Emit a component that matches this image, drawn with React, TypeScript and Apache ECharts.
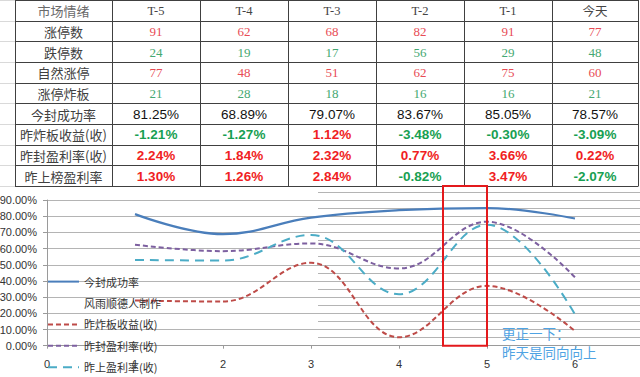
import React, { useEffect, useRef } from "react";
import * as echarts from "echarts";

// ---------- table data ----------
const headerLabel = "市场情绪";
const columns = ["T-5", "T-4", "T-3", "T-2", "T-1", "今天"];
const rowLabels = [
  "涨停数",
  "跌停数",
  "自然涨停",
  "涨停炸板",
  "今封成功率",
  "昨炸板收益(收)",
  "昨封盈利率(收)",
  "昨上榜盈利率",
];
const limitUpCount = [91, 62, 68, 82, 91, 77];
const limitDownCount = [24, 19, 17, 56, 29, 48];
const naturalLimitUp = [77, 48, 51, 62, 75, 60];
const brokenBoardCount = [21, 28, 18, 16, 16, 21];
const sealSuccessRate = [81.25, 68.89, 79.07, 83.67, 85.05, 78.57];
const brokenBoardReturn = [-1.21, -1.27, 1.12, -3.48, -0.3, -3.09];
const sealProfitRate = [2.24, 1.84, 2.32, 0.77, 3.66, 0.22];
const listProfitRate = [1.3, 1.26, 2.84, -0.82, 3.47, -2.07];

// ---------- chart data (values as plotted, %) ----------
const xPositions = [1, 2, 3, 4, 5, 6];
const chartSealRate = [81.25, 68.89, 79.07, 83.67, 85.05, 78.57];
const chartBrokenReturn = [27.9, 27.3, 51.2, 5.2, 37.0, 9.1];
const chartSealProfit = [62.4, 58.4, 63.2, 47.7, 76.6, 42.2];
const chartListProfit = [53.0, 52.6, 68.4, 31.8, 74.7, 19.3];
const legendNames = [
  "今封成功率",
  "风雨顺德人制作",
  "昨炸板收益(收)",
  "昨封盈利率(收)",
  "昨上盈利率(收)",
];
const highlightRange = [4.5, 5];
const noteLines = ["更正一下：", "昨天是同向向上"];

const CJK = "'Noto Sans CJK SC', sans-serif";
const SERIF = "'Liberation Serif', 'DejaVu Serif', serif";
const SANS = "'Liberation Sans', Arial, sans-serif";

function buildTable(): any[] {
  const els: any[] = [];
  const colX = [15, 112, 200, 288, 376, 464, 552, 638];
  const rowH = 20.67;
  const nRows = 9;
  const lineColor = "#404040";
  for (let r = 0; r <= nRows; r++) {
    const y = Math.round(r * rowH) + 0.5;
    els.push({
      type: "line",
      shape: { x1: 0, y1: y, x2: 15, y2: y },
      style: { stroke: "#d9d9d9", lineWidth: 1 },
    });
    els.push({
      type: "line",
      shape: { x1: colX[0], y1: y, x2: colX[7], y2: y },
      style: { stroke: lineColor, lineWidth: 1 },
    });
  }
  colX.forEach((x) => {
    const xx = Math.round(x) + 0.5;
    els.push({
      type: "line",
      shape: { x1: xx, y1: 0, x2: xx, y2: Math.round(nRows * rowH) + 0.5 },
      style: { stroke: lineColor, lineWidth: 1 },
    });
  });
  const cx = (c: number) => (colX[c] + colX[c + 1]) / 2;
  const cy = (r: number) => r * rowH + rowH / 2 + 0.5;
  const txt = (x: number, y: number, text: string, fill: string, fontFamily: string, fontSize = 13, fontWeight: any = "normal") =>
    els.push({
      type: "text",
      x,
      y,
      style: { text, fill, fontFamily, fontSize, fontWeight, align: "center", verticalAlign: "middle" },
    });
  txt(cx(0), cy(0), headerLabel, "#6a6a6a", CJK);
  columns.forEach((c, i) => txt(cx(i + 1), cy(0), c, "#444", /[A-Za-z]/.test(c) ? SERIF : CJK, 12.5));
  rowLabels.forEach((l, r) => txt(cx(0), cy(r + 1), l, "#404040", CJK));
  const red = "#e84c55";
  const green = "#45a872";
  const serifRows: [number[], string][] = [
    [limitUpCount, red],
    [limitDownCount, green],
    [naturalLimitUp, red],
    [brokenBoardCount, green],
  ];
  serifRows.forEach(([vals, col], r) => vals.forEach((v, i) => txt(cx(i + 1), cy(r + 1), String(v), col, SERIF)));
  sealSuccessRate.forEach((v, i) => txt(cx(i + 1), cy(5), v.toFixed(2) + "%", "#111", SANS, 13.5));
  [brokenBoardReturn, sealProfitRate, listProfitRate].forEach((vals, k) =>
    vals.forEach((v, i) =>
      txt(cx(i + 1), cy(6 + k), v.toFixed(2) + "%", v < 0 ? "#17a052" : "#f01e23", SANS, 13.5, "bold")
    )
  );
  return els;
}

export default function App() {
  const ref = useRef<HTMLDivElement>(null);
  useEffect(() => {
    if (!ref.current) return;
    const chart = echarts.init(ref.current, undefined, { renderer: "svg" });
    const pts = (vals: number[]) => xPositions.map((x, i) => [x, vals[i]]);
    const gridColor = "#b4b4b4";
    const mk = (name: string, vals: number[], color: string, width: number, type: any, z = 3) => ({
      name,
      type: "line",
      data: pts(vals),
      smooth: 0.4,
      symbol: "none",
      z,
      lineStyle: { color, width, type },
      itemStyle: { color },
    });
    chart.setOption({
      animation: false,
      backgroundColor: "#fff",
      grid: [
        { left: 47, width: 616, top: 200, height: 145.7, outerBoundsMode: "none", containLabel: false },
        { left: 318, right: 0, top: 191.9, height: 153.8, outerBoundsMode: "none", containLabel: false },
      ],
      xAxis: [
        {
          type: "value",
          gridIndex: 0,
          min: 0,
          max: 7,
          interval: 1,
          axisLine: { show: true, lineStyle: { color: "#9a9a9a" } },
          axisTick: { show: true, length: 3, lineStyle: { color: "#9a9a9a" } },
          axisLabel: { color: "#333", fontSize: 11, fontFamily: SANS, margin: 13, showMaxLabel: false },
          splitLine: { show: false },
        },
        { type: "value", gridIndex: 1, min: 0, max: 1, show: false },
      ],
      yAxis: [
        {
          type: "value",
          gridIndex: 0,
          min: 0,
          max: 90,
          interval: 10,
          axisLine: { show: true, lineStyle: { color: "#9a9a9a" } },
          axisTick: { show: true, length: 4, lineStyle: { color: "#9a9a9a" } },
          axisLabel: {
            color: "#333",
            fontSize: 11,
            fontFamily: SANS,
            margin: 10,
            formatter: (v: number) => v.toFixed(2) + "%",
          },
          splitLine: { show: true, lineStyle: { color: gridColor, width: 1 } },
        },
        {
          type: "value",
          gridIndex: 1,
          min: 0,
          max: 95,
          interval: 5,
          axisLine: { show: false },
          axisTick: { show: false },
          axisLabel: { show: false },
          splitLine: { show: true, lineStyle: { color: gridColor, width: 1 } },
        },
      ],
      legend: {
        orient: "vertical",
        left: 47,
        top: 276,
        padding: 0,
        itemWidth: 31,
        itemHeight: 14,
        itemGap: 10.2,
        selectedMode: false,
        itemStyle: { color: "transparent", borderWidth: 0, opacity: 0 },
        textStyle: { color: "#333", fontSize: 11, fontFamily: CJK },
        data: legendNames,
      },
      series: [
        mk(legendNames[0], chartSealRate, "#4a7ebb", 2.25, "solid", 5),
        {
          name: legendNames[1],
          type: "line",
          data: [],
          symbol: "none",
          lineStyle: { opacity: 0, color: "#fff" },
          itemStyle: { opacity: 0, color: "#fff" },
        },
        mk(legendNames[2], chartBrokenReturn, "#be4b48", 2, [5, 3]),
        mk(legendNames[3], chartSealProfit, "#7d60a0", 2, [5, 3]),
        mk(legendNames[4], chartListProfit, "#4bacc6", 2, [9, 6]),
      ],
    });
    const p0 = chart.convertToPixel({ gridIndex: 0 }, [highlightRange[0], 0]) as number[];
    const p1 = chart.convertToPixel({ gridIndex: 0 }, [highlightRange[1], 0]) as number[];
    const graphics = buildTable();
    graphics.push({
      type: "rect",
      shape: { x: p0[0], y: 186, width: p1[0] - p0[0], height: p0[1] - 186 },
      style: { fill: "none", stroke: "#e3191c", lineWidth: 2 },
      z: 10,
    });
    noteLines.forEach((t, i) =>
      graphics.push({
        type: "text",
        x: 502,
        y: 333 + i * 18.5,
        z: 10,
        style: { text: t, fill: "#4fa3e3", fontSize: 13.5, fontFamily: CJK, verticalAlign: "middle" },
      })
    );
    chart.setOption({ graphic: graphics });
    return () => chart.dispose();
  }, []);
  return (
    <div
      ref={ref}
      style={{ position: "absolute", left: 0, top: 0, width: 640, height: 377, background: "#fff" }}
    />
  );
}
